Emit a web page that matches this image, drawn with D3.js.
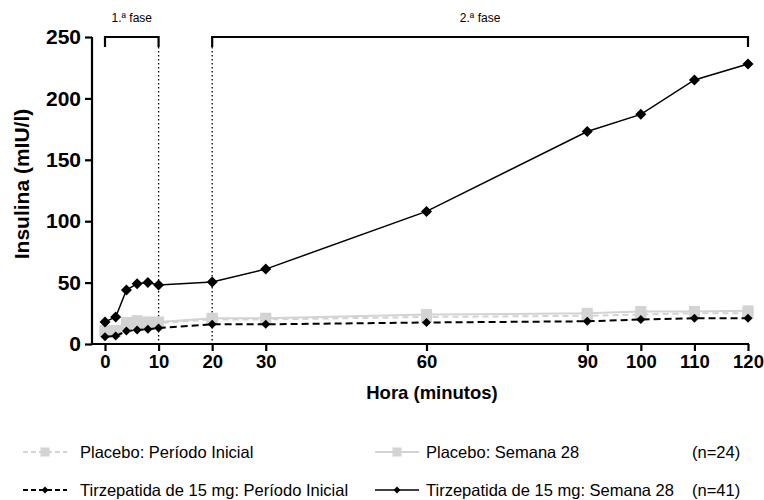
<!DOCTYPE html>
<html><head><meta charset="utf-8">
<script src="https://cdn.jsdelivr.net/npm/d3@7/dist/d3.min.js"></script>
<style>
body{margin:0;background:#fff;}
text{font-family:"Liberation Sans",Arial,Helvetica,sans-serif;}
</style></head>
<body><svg id="c" width="764" height="500"></svg>
<script>
const times = [0,2,4,6,8,10,20,30,60,90,100,110,120];
const xTicks = [0,10,20,30,60,90,100,110,120];
const yTicks = [0,50,100,150,200,250];
const placeboBaseline = [10,10,16,17,17,17,20,20,22,23,24,25,25];
const placeboWeek28   = [11,11,17.5,19,18,18,21,21,24,25,26.5,26.5,27];
const tirzBaseline    = [6,6.5,10.5,11.5,12,13,16,16,17.5,18.5,20,21,21];
const tirzWeek28      = [18,22,44,49,50,48,50.5,61,108,173,187,215,228];
const phases = [{label:"1.ª fase", from:0, to:10},{label:"2.ª fase", from:20, to:120}];
const legendItems = [
  {label:"Placebo: Período Inicial", key:"pb"},
  {label:"Placebo: Semana 28", key:"pw", n:"(n=24)"},
  {label:"Tirzepatida de 15 mg: Período Inicial", key:"tb"},
  {label:"Tirzepatida de 15 mg: Semana 28", key:"tw", n:"(n=41)"}
];

const svg = d3.select("#c");
const x = d3.scaleLinear().domain([0,120]).range([105,748]);
const y = d3.scaleLinear().domain([0,250]).range([344,37]);
const axisX0 = 92;

const styles = {
  pb:{color:"#d3d3d3", dash:"6,4", marker:"square", size:11, w:2, legDash:"5,3"},
  pw:{color:"#d3d3d3", dash:null, marker:"square", size:11, w:2, legDash:null},
  tb:{color:"#000", dash:"7,4", marker:"diamond", size:7, w:2, legDash:"5,3"},
  tw:{color:"#000", dash:null, marker:"diamond", size:9, w:1.5, legDash:null}
};
const series = [
  {key:"pb", vals:placeboBaseline},
  {key:"pw", vals:placeboWeek28},
  {key:"tb", vals:tirzBaseline},
  {key:"tw", vals:tirzWeek28}
];

// dotted phase boundaries
[10,20].forEach(t=>{
  svg.append("line").attr("x1",x(t)).attr("x2",x(t)).attr("y1",y(250)+10).attr("y2",y(0))
    .attr("stroke","#000").attr("stroke-width",1.3).attr("stroke-dasharray","1.5,2.5");
});

// phase brackets
phases.forEach(p=>{
  const x1=x(p.from), x2=x(p.to), yt=y(250);
  svg.append("path").attr("d",`M${x1},${yt+10}V${yt}H${x2}V${yt+10}`)
    .attr("fill","none").attr("stroke","#000").attr("stroke-width",2.2);
  svg.append("text").attr("x",(x1+x2)/2).attr("y",yt-15).attr("text-anchor","middle")
    .attr("font-size",12).text(p.label);
});

function drawMarker(g, type, cx, cy, s, color){
  if(type==="square"){
    g.append("rect").attr("x",cx-s/2).attr("y",cy-s/2).attr("width",s).attr("height",s).attr("fill",color);
  } else {
    const h=s/2+1;
    g.append("path").attr("d",`M${cx},${cy-h}L${cx+h},${cy}L${cx},${cy+h}L${cx-h},${cy}Z`).attr("fill",color);
  }
}

const line = d3.line().x((d,i)=>x(times[i])).y(d=>y(d));
series.forEach(s=>{
  const st=styles[s.key];
  const g=svg.append("g");
  g.append("path").attr("d",line(s.vals)).attr("fill","none").attr("stroke",st.color)
    .attr("stroke-width",st.w).attr("stroke-dasharray",st.dash);
  s.vals.forEach((v,i)=>drawMarker(g, st.marker, x(times[i]), y(v), st.size, st.color));
});

// axes
const yAxis = svg.append("g").attr("transform",`translate(${axisX0},0)`)
  .call(d3.axisLeft(y).tickValues(yTicks).tickSize(7).tickPadding(4));
yAxis.select(".domain").remove();
yAxis.selectAll(".tick line").attr("stroke-width",2.2);
yAxis.selectAll(".tick text").attr("font-size",21).attr("font-weight","bold").attr("font-family","Liberation Sans, Arial").attr("fill","#000");
svg.append("line").attr("x1",axisX0).attr("x2",axisX0).attr("y1",y(250)).attr("y2",y(0)+1)
  .attr("stroke","#000").attr("stroke-width",2.2);

const xAxis = svg.append("g").attr("transform",`translate(0,${y(0)})`)
  .call(d3.axisBottom(x).tickValues(xTicks).tickSize(7).tickPadding(4));
xAxis.select(".domain").remove();
xAxis.selectAll(".tick line").attr("stroke-width",2.2);
xAxis.selectAll(".tick text").attr("font-size",18.5).attr("font-weight","bold").attr("font-family","Liberation Sans, Arial").attr("fill","#000");
svg.append("line").attr("x1",axisX0-1).attr("x2",x(120)+1).attr("y1",y(0)).attr("y2",y(0))
  .attr("stroke","#000").attr("stroke-width",2.2);

svg.append("text").attr("x",432).attr("y",399).attr("text-anchor","middle")
  .attr("font-size",18.5).attr("font-weight","bold").text("Hora (minutos)");
svg.append("text").attr("transform",`translate(29,184) rotate(-90)`).attr("text-anchor","middle")
  .attr("font-size",21).attr("font-weight","bold").text("Insulina (mIU/l)");

// legend
const legPos = [{sx:23,tx:80,y:452},{sx:375,tx:426,y:452},{sx:23,tx:80,y:490},{sx:375,tx:426,y:490}];
legendItems.forEach((it,i)=>{
  const p=legPos[i], st=styles[it.key];
  const g=svg.append("g");
  g.append("line").attr("x1",p.sx).attr("x2",p.sx+44).attr("y1",p.y).attr("y2",p.y)
    .attr("stroke",st.color).attr("stroke-width",st.w).attr("stroke-dasharray",st.legDash);
  drawMarker(g, st.marker, p.sx+22, p.y, st.marker==="square"?9:5, st.color);
  g.append("text").attr("x",p.tx).attr("y",p.y+6).attr("font-size",16.5).text(it.label);
  if(it.n) g.append("text").attr("x",692).attr("y",p.y+6).attr("font-size",16.5).text(it.n);
});
</script></body></html>
